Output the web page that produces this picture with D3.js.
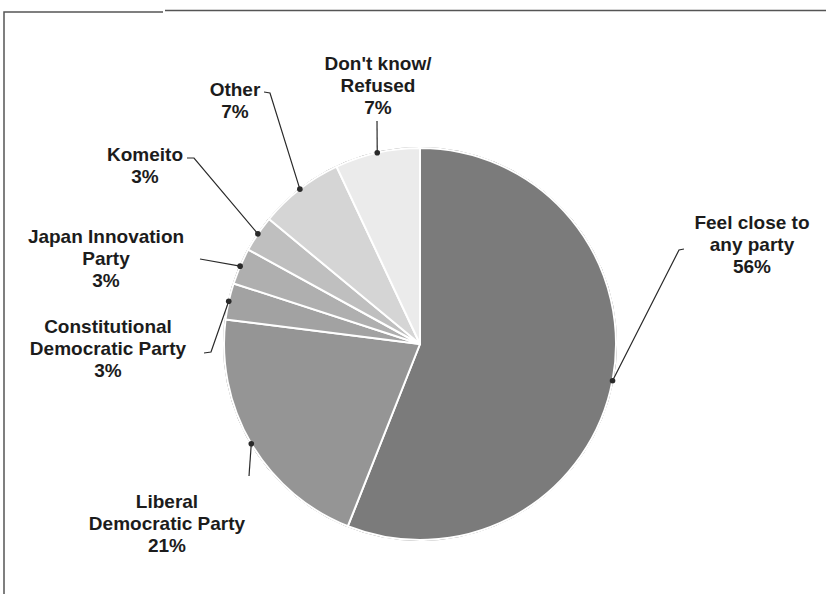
<!DOCTYPE html>
<html>
<head>
<meta charset="utf-8">
<script src="https://cdn.jsdelivr.net/npm/d3@7"></script>
<style>
  html, body { margin: 0; padding: 0; background: #fff; }
  svg { display: block; }
  .label { font-family: "Liberation Sans", Arial, sans-serif; font-weight: bold; font-size: 19px; fill: #1c1c1c; }
  .leader { fill: none; stroke: #2a2a2a; stroke-width: 1.2; }
</style>
</head>
<body>
<div id="chart"></div>
<script>
  const categories = [
    "Feel close to any party",
    "Liberal Democratic Party",
    "Constitutional Democratic Party",
    "Japan Innovation Party",
    "Komeito",
    "Other",
    "Don't know/Refused",
  ];
  const values = [56, 21, 3, 3, 3, 7, 7];
  const labelLines = [
    ["Feel close to", "any party", "56%"],
    ["Liberal", "Democratic Party", "21%"],
    ["Constitutional", "Democratic Party", "3%"],
    ["Japan Innovation", "Party", "3%"],
    ["Komeito", "3%"],
    ["Other", "7%"],
    ["Don't know/", "Refused", "7%"],
  ];
  const sliceColors = ["#7b7b7b", "#959595", "#a2a2a2", "#afafaf", "#bfbfbf", "#d5d5d5", "#ebebeb"];

  // label placement: text centre + first baseline, leader start (with optional hook)
  const labelLayout = [
    { x: 752, y: 229, leader: [[684, 249], [679, 250]] },
    { x: 167, y: 508, leader: [[249, 476]] },
    { x: 108, y: 333, leader: [[204, 353], [211, 352]] },
    { x: 106, y: 243, leader: [[200, 259]] },
    { x: 145, y: 161, leader: [[187, 158], [194, 158]] },
    { x: 235, y: 96, leader: [[264, 92], [270, 93]] },
    { x: 378, y: 70, leader: [[377, 121]] },
  ];

  const W = 826, H = 594;
  const cx = 420, cy = 344, R = 196;
  const LINE_H = 22;

  const svg = d3.select("#chart").append("svg").attr("width", W).attr("height", H);

  // frame
  svg.append("path")
    .attr("d", `M4,${H} L4,12 L163,12`)
    .attr("fill", "none").attr("stroke", "#555").attr("stroke-width", 1.5);
  svg.append("path")
    .attr("d", `M165,10.5 L${W},10.5`)
    .attr("fill", "none").attr("stroke", "#555").attr("stroke-width", 1.5);

  const data = categories.map((c, i) => ({ name: c, value: values[i], lines: labelLines[i], i }));

  const pie = d3.pie().value((d) => d.value).sort(null);
  const arcs = pie(data);
  const arc = d3.arc().innerRadius(0).outerRadius(R);
  const dotArc = d3.arc().innerRadius(R).outerRadius(R);

  const g = svg.append("g").attr("transform", `translate(${cx},${cy})`);

  g.append("circle").attr("r", R + 0.5).attr("fill", "none").attr("stroke", "#666").attr("stroke-width", 1);

  g.selectAll("path.slice")
    .data(arcs)
    .join("path")
    .attr("class", "slice")
    .attr("d", arc)
    .attr("fill", (d) => sliceColors[d.data.i])
    .attr("stroke", "#fff")
    .attr("stroke-width", 2)
    .attr("stroke-linejoin", "round");

  // leaders
  arcs.forEach((d) => {
    const lay = labelLayout[d.data.i];
    const [px, py] = dotArc.centroid(d);
    const pts = lay.leader.concat([[px + cx, py + cy]]);
    svg.append("path")
      .attr("class", "leader")
      .attr("d", d3.line()(pts));
    svg.append("circle")
      .attr("cx", px + cx).attr("cy", py + cy).attr("r", 2.8)
      .attr("fill", "#2a2a2a");
  });

  // labels
  data.forEach((d) => {
    const lay = labelLayout[d.i];
    const t = svg.append("text")
      .attr("class", "label")
      .attr("text-anchor", "middle");
    d.lines.forEach((ln, k) => {
      t.append("tspan").attr("x", lay.x).attr("y", lay.y + k * LINE_H).text(ln);
    });
  });
</script>
</body>
</html>
